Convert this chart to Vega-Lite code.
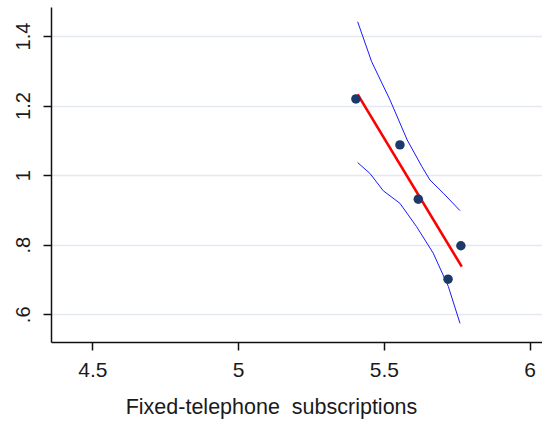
{
  "$schema": "https://vega.github.io/schema/vega-lite/v6.json",
  "autosize": {"type": "none"},
  "padding": {"left": 51, "top": 7, "right": 0, "bottom": 83},
  "width": 491,
  "height": 335,
  "background": "white",
  "config": {
    "view": {"stroke": null},
    "font": "Liberation Sans",
    "axis": {
      "domainColor": "#111111",
      "domainWidth": 1.5,
      "tickColor": "#111111",
      "tickWidth": 1.5,
      "tickSize": 8,
      "labelColor": "#1a1a1a",
      "labelFont": "Liberation Sans",
      "labelFontSize": 20,
      "titleFont": "Liberation Sans",
      "titleFontWeight": "normal",
      "titleColor": "#1a1a1a"
    }
  },
  "datasets": {
    "points": [
      {"x": 5.404, "y": 1.219},
      {"x": 5.555, "y": 1.087},
      {"x": 5.618, "y": 0.931},
      {"x": 5.764, "y": 0.797},
      {"x": 5.720, "y": 0.701}
    ],
    "fit": [
      {"x": 5.41, "y": 1.232},
      {"x": 5.767, "y": 0.737}
    ],
    "upper": [
      {"x": 5.410, "y": 1.441},
      {"x": 5.458, "y": 1.326},
      {"x": 5.521, "y": 1.216},
      {"x": 5.580, "y": 1.101},
      {"x": 5.630, "y": 1.025},
      {"x": 5.658, "y": 0.986},
      {"x": 5.704, "y": 0.948},
      {"x": 5.761, "y": 0.898}
    ],
    "lower": [
      {"x": 5.410, "y": 1.036},
      {"x": 5.452, "y": 1.005},
      {"x": 5.498, "y": 0.955},
      {"x": 5.555, "y": 0.919},
      {"x": 5.612, "y": 0.852},
      {"x": 5.669, "y": 0.776},
      {"x": 5.721, "y": 0.680},
      {"x": 5.761, "y": 0.574}
    ]
  },
  "encoding": {
    "x": {
      "field": "x",
      "type": "quantitative",
      "scale": {"domain": [4.3584, 6.0422], "nice": false, "zero": false},
      "axis": {
        "values": [4.5, 5, 5.5, 6],
        "grid": false,
        "title": "Fixed-telephone\u00a0 subscriptions",
        "titleFontSize": 21.5,
        "titlePadding": 16,
        "titleAnchor": "middle",
        "titleX": 220,
        "labelFontSize": 21,
        "labelPadding": 9,
        "labelFlush": false,
        "format": "~g"
      }
    },
    "y": {
      "field": "y",
      "type": "quantitative",
      "scale": {"domain": [0.5204, 1.4833], "nice": false, "zero": false},
      "axis": {
        "values": [0.6, 0.8, 1, 1.2, 1.4],
        "grid": true,
        "gridColor": "#e3e8f1",
        "gridWidth": 1.5,
        "title": null,
        "labelAngle": -90,
        "labelAlign": "center",
        "labelBaseline": "bottom",
        "labelPadding": 10,
        "labelFlush": false,
        "labelExpr": "replace(format(datum.value, '~g'), /^0\\./, '.')"
      }
    }
  },
  "layer": [
    {
      "data": {"name": "upper"},
      "mark": {"type": "line", "color": "#1a1aff", "strokeWidth": 1},
      "encoding": {}
    },
    {
      "data": {"name": "lower"},
      "mark": {"type": "line", "color": "#1a1aff", "strokeWidth": 1},
      "encoding": {}
    },
    {
      "data": {"name": "fit"},
      "mark": {"type": "line", "color": "#ff0000", "strokeWidth": 2.6},
      "encoding": {}
    },
    {
      "data": {"name": "points"},
      "mark": {"type": "point", "shape": "circle", "filled": true, "opacity": 1, "color": "#1b3a6b", "size": 90}
    }
  ]
}
